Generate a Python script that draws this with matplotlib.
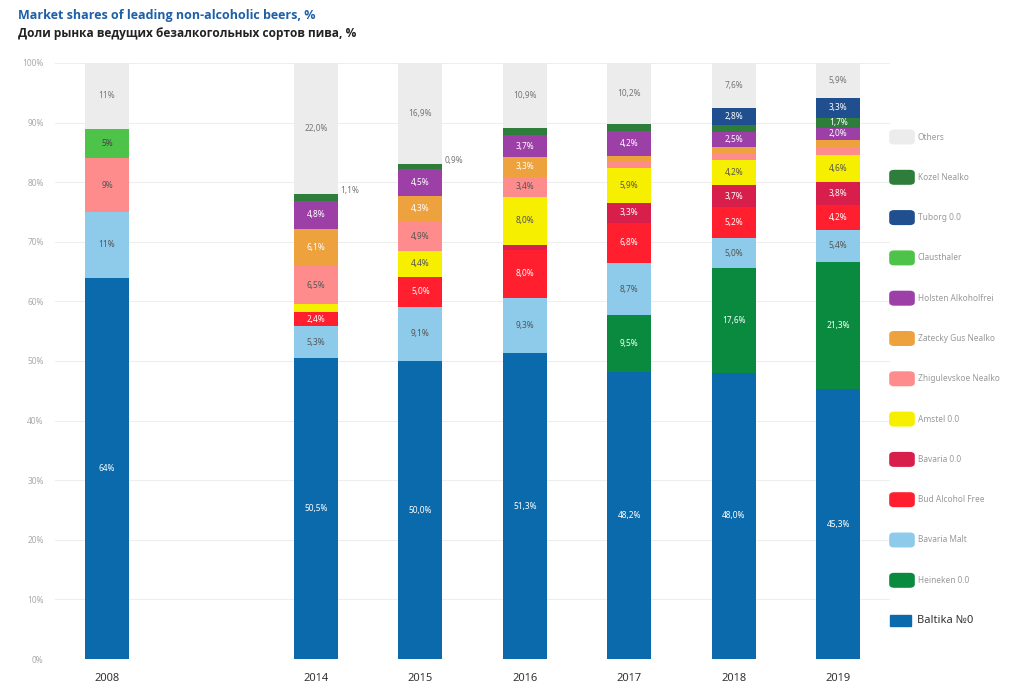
import matplotlib.pyplot as plt
from matplotlib.patches import FancyBboxPatch

plt.rcParams['font.family'] = ['Noto Sans', 'DejaVu Sans']

# categories (one empty slot between 2008 and 2014)
years = ['2008', '2014', '2015', '2016', '2017', '2018', '2019']
slots = [0, 2, 3, 4, 5, 6, 7]

# shares, %, stacked bottom -> top
baltika = [64, 50.5, 50.0, 51.3, 48.2, 48.0, 45.3]
heineken = [0, 0, 0, 0, 9.5, 17.6, 21.3]
bavaria_malt = [11, 5.3, 9.1, 9.3, 8.7, 5.0, 5.4]
bud = [0, 2.4, 5.0, 8.0, 6.8, 5.2, 4.2]
bavaria = [0, 0, 0, 0.9, 3.3, 3.7, 3.8]
amstel = [0, 1.3, 4.4, 8.0, 5.9, 4.2, 4.6]
zhiguli = [9, 6.5, 4.9, 3.4, 1.0, 1.2, 1.3]
zatecky = [0, 6.1, 4.3, 3.3, 1.0, 1.0, 1.2]
holsten = [0, 4.8, 4.5, 3.7, 4.2, 2.5, 2.0]
clausthaler = [5, 0, 0, 0, 0, 0, 0]
kozel = [0, 1.1, 0.9, 1.2, 1.2, 1.2, 1.7]
tuborg = [0, 0, 0, 0, 0, 2.8, 3.3]
others = [11, 22.0, 16.9, 10.9, 10.2, 7.6, 5.9]

series = [
    ('Baltika №0', baltika, '#0b6aab', 'white'),
    ('Heineken 0.0', heineken, '#0a8a3e', 'white'),
    ('Bavaria Malt', bavaria_malt, '#8ecbea', '#555555'),
    ('Bud Alcohol Free', bud, '#ff1f2e', 'white'),
    ('Bavaria 0.0', bavaria, '#d81f4b', 'white'),
    ('Amstel 0.0', amstel, '#f6ef00', '#555555'),
    ('Zhigulevskoe Nealko', zhiguli, '#ff8c8c', '#555555'),
    ('Zatecky Gus Nealko', zatecky, '#eea23e', 'white'),
    ('Holsten Alkoholfrei', holsten, '#9c40a8', 'white'),
    ('Clausthaler', clausthaler, '#4dc34a', '#444444'),
    ('Kozel Nealko', kozel, '#2f7d3b', 'white'),
    ('Tuborg 0.0', tuborg, '#1f4f8e', 'white'),
    ('Others', others, '#ececec', '#777777'),
]
legend_order = ['Others', 'Kozel Nealko', 'Tuborg 0.0', 'Clausthaler',
                'Holsten Alkoholfrei', 'Zatecky Gus Nealko', 'Zhigulevskoe Nealko',
                'Amstel 0.0', 'Bavaria 0.0', 'Bud Alcohol Free', 'Bavaria Malt',
                'Heineken 0.0', 'Baltika №0']

fig = plt.figure(figsize=(10.24, 6.99), dpi=100)
ax = fig.add_axes([0.0535, 0.0572, 0.816, 0.8527])

bottoms = [0.0] * len(years)
for name, vals, color, tcol in series:
    ax.bar(slots, vals, width=0.42, bottom=bottoms, color=color, zorder=2)
    for i, v in enumerate(vals):
        if v <= 0:
            continue
        txt = ('%d%%' % v) if i == 0 else ('%.1f%%' % v).replace('.', ',')
        if v >= 1.5:
            ax.text(slots[i], bottoms[i] + v / 2, txt, ha='center', va='center',
                    fontsize=6, color=tcol, zorder=3)
        elif name == 'Kozel Nealko' and i in (1, 2):
            # small share written beside the bar
            ax.text(slots[i] + 0.23, bottoms[i] + v + 0.6, txt, ha='left', va='center',
                    fontsize=6, color='#777777', zorder=3)
    bottoms = [b + v for b, v in zip(bottoms, vals)]

ax.set_xlim(-0.5, 7.5)
ax.set_ylim(0, 100)
ax.set_xticks(slots)
ax.set_xticklabels(years, fontsize=8, color='#333333')
ax.set_yticks(range(0, 101, 10))
ax.set_yticklabels(['%d%%' % t for t in range(0, 101, 10)], fontsize=6, color='#aaaaaa')
ax.tick_params(length=0, pad=8)
ax.tick_params(axis='x', pad=10)
ax.grid(axis='y', color='#eeeeee', linewidth=0.8, zorder=0)
for s in ax.spines.values():
    s.set_visible(False)

# legend on the right
colors = {n: c for n, v, c, t in series}
for k, name in enumerate(legend_order):
    yc = 1 - (137 + k * 40.3) / 699
    if name == 'Baltika №0':
        fig.patches.append(FancyBboxPatch((890 / 1024, yc - 5.5 / 699), 21 / 1024, 11 / 699,
                                          boxstyle='square,pad=0', transform=fig.transFigure,
                                          color=colors[name]))
        fig.text(917 / 1024, yc, name, fontsize=8, color='#333333', va='center')
    else:
        fig.patches.append(FancyBboxPatch((894 / 1024, yc - 4 / 699), 16 / 1024, 8 / 699,
                                          boxstyle='round,pad=0.004', transform=fig.transFigure,
                                          color=colors[name]))
        fig.text(918 / 1024, yc, name, fontsize=6, color='#999999', va='center')

fig.text(18 / 1024, 1 - 15 / 699, 'Market shares of leading non-alcoholic beers, %',
         fontsize=9, color='#1d5fa8', fontweight='bold', va='center',
         family=['Open Sans', 'DejaVu Sans'])
fig.text(18 / 1024, 1 - 33 / 699, 'Доли рынка ведущих безалкогольных сортов пива, %',
         fontsize=8.6, color='#222222', fontweight='bold', va='center',
         family=['Open Sans', 'DejaVu Sans'])

fig.savefig('out.png', dpi=100)
